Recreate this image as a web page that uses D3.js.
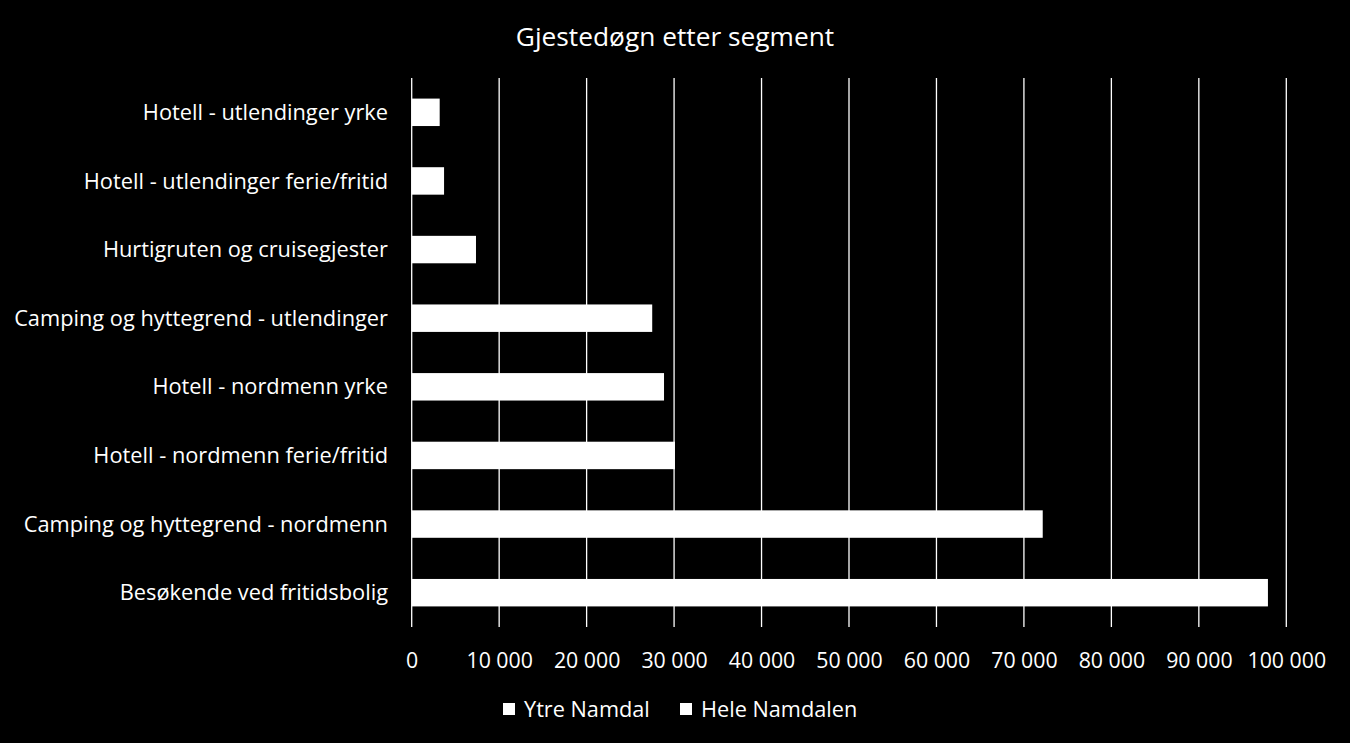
<!DOCTYPE html>
<html>
<head>
<meta charset="utf-8">
<script src="https://cdn.jsdelivr.net/npm/d3@7"></script>
<style>
  html, body { margin: 0; padding: 0; background: #000; }
  svg { display: block; }
  text { font-family: "Open Sans", sans-serif; fill: #fff; }
</style>
</head>
<body>
<svg id="chart" width="1350" height="743"></svg>
<script>
const categories = [
  "Hotell - utlendinger yrke",
  "Hotell - utlendinger ferie/fritid",
  "Hurtigruten og cruisegjester",
  "Camping og hyttegrend - utlendinger",
  "Hotell - nordmenn yrke",
  "Hotell - nordmenn ferie/fritid",
  "Camping og hyttegrend - nordmenn",
  "Besøkende ved fritidsbolig"
];
const ytreNamdal = [3200, 3700, 7350, 27500, 28850, 30100, 72150, 97900];
const seriesNames = ["Ytre Namdal", "Hele Namdalen"];
const xTicks = [0, 10000, 20000, 30000, 40000, 50000, 60000, 70000, 80000, 90000, 100000];
const title = "Gjestedøgn etter segment";

(function () {
const FONT = "'Open Sans', sans-serif";
const svg = d3.select("#chart");
const W = 1350, H = 743;
svg.append("rect").attr("width", W).attr("height", H).attr("fill", "#000");

const mLeft = 411.7, mRight = 1286.3, mTop = 78, mBottom = 627;

const x = d3.scaleLinear().domain([0, 100000]).range([mLeft, mRight]);
const y = d3.scaleBand().domain(categories).range([mTop, mBottom]).paddingInner(0.6).paddingOuter(0.3);

// gridlines
svg.append("g").selectAll("line").data(xTicks).join("line")
  .attr("x1", d => x(d)).attr("x2", d => x(d))
  .attr("y1", mTop).attr("y2", mBottom)
  .attr("stroke", "#fff").attr("stroke-width", 1.3);

// bars
svg.append("g").selectAll("rect").data(categories).join("rect")
  .attr("x", x(0))
  .attr("y", d => y(d))
  .attr("width", (d, i) => x(ytreNamdal[i]) - x(0))
  .attr("height", y.bandwidth())
  .attr("fill", "#fff");

// x axis
const xAxis = d3.axisBottom(x).tickValues(xTicks).tickSize(0).tickPadding(0)
  .tickFormat(d => d === 0 ? "0" : d3.format(",")(d).replace(/,/g, " "));
const gx = svg.append("g").attr("transform", `translate(0, ${mBottom})`).call(xAxis);
gx.select(".domain").remove();
gx.selectAll("text").attr("y", 34).attr("dy", "0.35em").attr("font-size", 21.3).style("fill", "#fff")
  .attr("font-family", FONT);

// y axis
const yAxis = d3.axisLeft(y).tickSize(0).tickPadding(0);
const gy = svg.append("g").attr("transform", `translate(388, 0)`).call(yAxis);
gy.select(".domain").remove();
gy.selectAll("text").attr("x", 0).attr("dy", "0.35em").attr("font-size", 21.8).style("fill", "#fff")
  .attr("font-family", FONT);

// title
svg.append("text").attr("x", 675).attr("y", 37).attr("dy", "0.35em").attr("text-anchor", "middle")
  .attr("font-size", 26.3).text(title);

// legend
const legendX = [503, 680];
const lg = svg.append("g").selectAll("g").data(seriesNames).join("g")
  .attr("transform", (d, i) => `translate(${legendX[i]}, 703)`);
lg.append("rect").attr("width", 12).attr("height", 12).attr("fill", "#fff");
lg.append("text").attr("x", 21).attr("y", 6).attr("dy", "0.35em").attr("font-size", 21.7).text(d => d);
})();
</script>
</body>
</html>
